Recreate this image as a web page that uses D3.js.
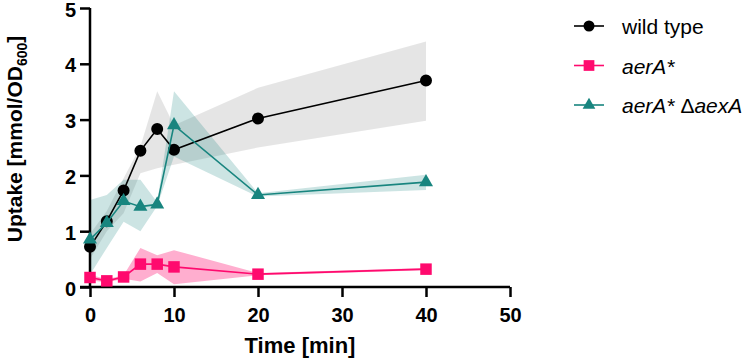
<!DOCTYPE html>
<html>
<head>
<meta charset="utf-8">
<script src="https://cdn.jsdelivr.net/npm/d3@7"></script>
<style>
  body { margin: 0; background: #fff; }
  svg text { font-family: "Liberation Sans", Arial, sans-serif; }
</style>
</head>
<body>
<div id="chart"></div>
<script>
var width  = 753;
var height = 361;

// time points (min)
var times = [0, 2, 4, 6, 8, 10, 20, 40];

// wild type
var wtMean = [0.72, 1.18, 1.73, 2.44, 2.83, 2.46, 3.02, 3.70];
var wtLow  = [0.50, 1.00, 1.32, 2.04, 2.13, 2.19, 2.50, 2.98];
var wtHigh = [0.95, 1.36, 1.95, 2.52, 3.51, 2.90, 3.57, 4.40];

// aerA*
var aerMean = [0.17, 0.11, 0.18, 0.41, 0.41, 0.36, 0.23, 0.32];
var aerLow  = [0.12, 0.08, 0.15, 0.10, 0.25, 0.05, 0.21, 0.30];
var aerHigh = [0.22, 0.14, 0.21, 0.70, 0.57, 0.66, 0.25, 0.34];

// aerA* deltaaexA
var aexMean = [0.85, 1.15, 1.54, 1.44, 1.48, 2.90, 1.65, 1.88];
var aexLow  = [0.22, 0.70, 1.17, 1.00, 1.45, 2.34, 1.62, 1.74];
var aexHigh = [1.56, 1.65, 1.92, 1.92, 1.52, 3.51, 1.68, 2.01];

var xTicks = [0, 10, 20, 30, 40, 50];
var yTicks = [0, 1, 2, 3, 4, 5];

var svg = d3.select("#chart").append("svg")
  .attr("width", width)
  .attr("height", height);

var x = d3.scaleLinear().domain([0, 50]).range([90, 510]);
var y = d3.scaleLinear().domain([0, 5]).range([287, 8]);

var series = [
  {name: "wild type", mean: wtMean, low: wtLow, high: wtHigh, color: "#000000",
   band: "rgba(0,0,0,0.1)", symbol: d3.symbolCircle, size: 113, legSize: 95},
  {name: "aerA*", mean: aerMean, low: aerLow, high: aerHigh, color: "#ff0a6e",
   band: "rgba(255,10,110,0.33)", symbol: d3.symbolSquare, size: 132, legSize: 115},
  {name: "aerA* ΔaexA", mean: aexMean, low: aexLow, high: aexHigh, color: "#18857f",
   band: "rgba(24,133,127,0.22)", symbol: d3.symbolTriangle, size: 85, legSize: 70}
];

// shaded SD bands
var area = d3.area()
  .x(function(d) { return x(d.t); })
  .y0(function(d) { return y(d.lo); })
  .y1(function(d) { return y(d.hi); });

series.forEach(function(s) {
  var pts = times.map(function(t, i) { return {t: t, lo: s.low[i], hi: s.high[i]}; });
  svg.append("path")
    .datum(pts)
    .attr("d", area)
    .style("fill", s.band);
});

// axes
var xAxis = svg.append("g")
  .attr("transform", "translate(0," + y(0) + ")")
  .call(d3.axisBottom(x).tickValues(xTicks).tickFormat(d3.format("d"))
    .tickSize(10).tickPadding(11));
var yAxis = svg.append("g")
  .attr("transform", "translate(" + x(0) + ",0)")
  .call(d3.axisLeft(y).tickValues(yTicks).tickFormat(d3.format("d"))
    .tickSize(10).tickPadding(4));

[xAxis, yAxis].forEach(function(g) {
  g.select(".domain").attr("stroke", "#000").attr("stroke-width", 2.5);
  g.selectAll(".tick line").attr("stroke", "#000").attr("stroke-width", 2.5);
  g.selectAll(".tick text")
    .attr("fill", "#000")
    .style("font-size", "20px")
    .style("font-weight", "bold");
});
yAxis.selectAll(".tick text").attr("dy", "0.4em");
xAxis.select(".domain").attr("d", "M" + (x(0) - 10) + ",0H" + x(50));
yAxis.select(".domain").attr("d", "M0," + y(0) + "V" + y(5));

// lines and markers
var line = d3.line()
  .x(function(d, i) { return x(times[i]); })
  .y(function(d) { return y(d); });

series.forEach(function(s) {
  svg.append("path")
    .datum(s.mean)
    .attr("d", line)
    .style("fill", "none")
    .style("stroke", s.color)
    .style("stroke-width", 1.6);

  svg.selectAll(null)
    .data(s.mean)
    .enter().append("path")
    .attr("d", d3.symbol().type(s.symbol).size(s.size))
    .attr("transform", function(d, i) {
      return "translate(" + x(times[i]) + "," + y(d) + ")";
    })
    .style("fill", s.color);
});

// axis titles
svg.append("text")
  .attr("x", 300)
  .attr("y", 353)
  .attr("text-anchor", "middle")
  .style("font-size", "22px")
  .style("font-weight", "bold")
  .text("Time [min]");

var yTitle = svg.append("text")
  .attr("transform", "translate(22,139) rotate(-90)")
  .attr("text-anchor", "middle")
  .style("font-size", "21px")
  .style("font-weight", "bold");
yTitle.append("tspan").text("Uptake [mmol/OD");
yTitle.append("tspan").attr("dy", 5).style("font-size", "14px").text("600");
yTitle.append("tspan").attr("dy", -5).text("]");

// legend
var legend = svg.append("g");
series.forEach(function(s, i) {
  var ly = 26 + i * 39.5;
  legend.append("line")
    .attr("x1", 574).attr("x2", 604)
    .attr("y1", ly).attr("y2", ly)
    .style("stroke", s.color)
    .style("stroke-width", 1.6);
  legend.append("path")
    .attr("d", d3.symbol().type(s.symbol).size(s.legSize))
    .attr("transform", "translate(589," + ly + ")")
    .style("fill", s.color);
  var t = legend.append("text")
    .attr("x", 622)
    .attr("y", ly + 8)
    .style("font-size", "21px");
  if (i === 0) {
    t.text(s.name);
  } else if (i === 1) {
    t.style("font-style", "italic").text(s.name);
  } else {
    t.append("tspan").style("font-style", "italic").text("aerA* ");
    t.append("tspan").text("Δ");
    t.append("tspan").style("font-style", "italic").text("aexA");
  }
});
</script>
</body>
</html>
